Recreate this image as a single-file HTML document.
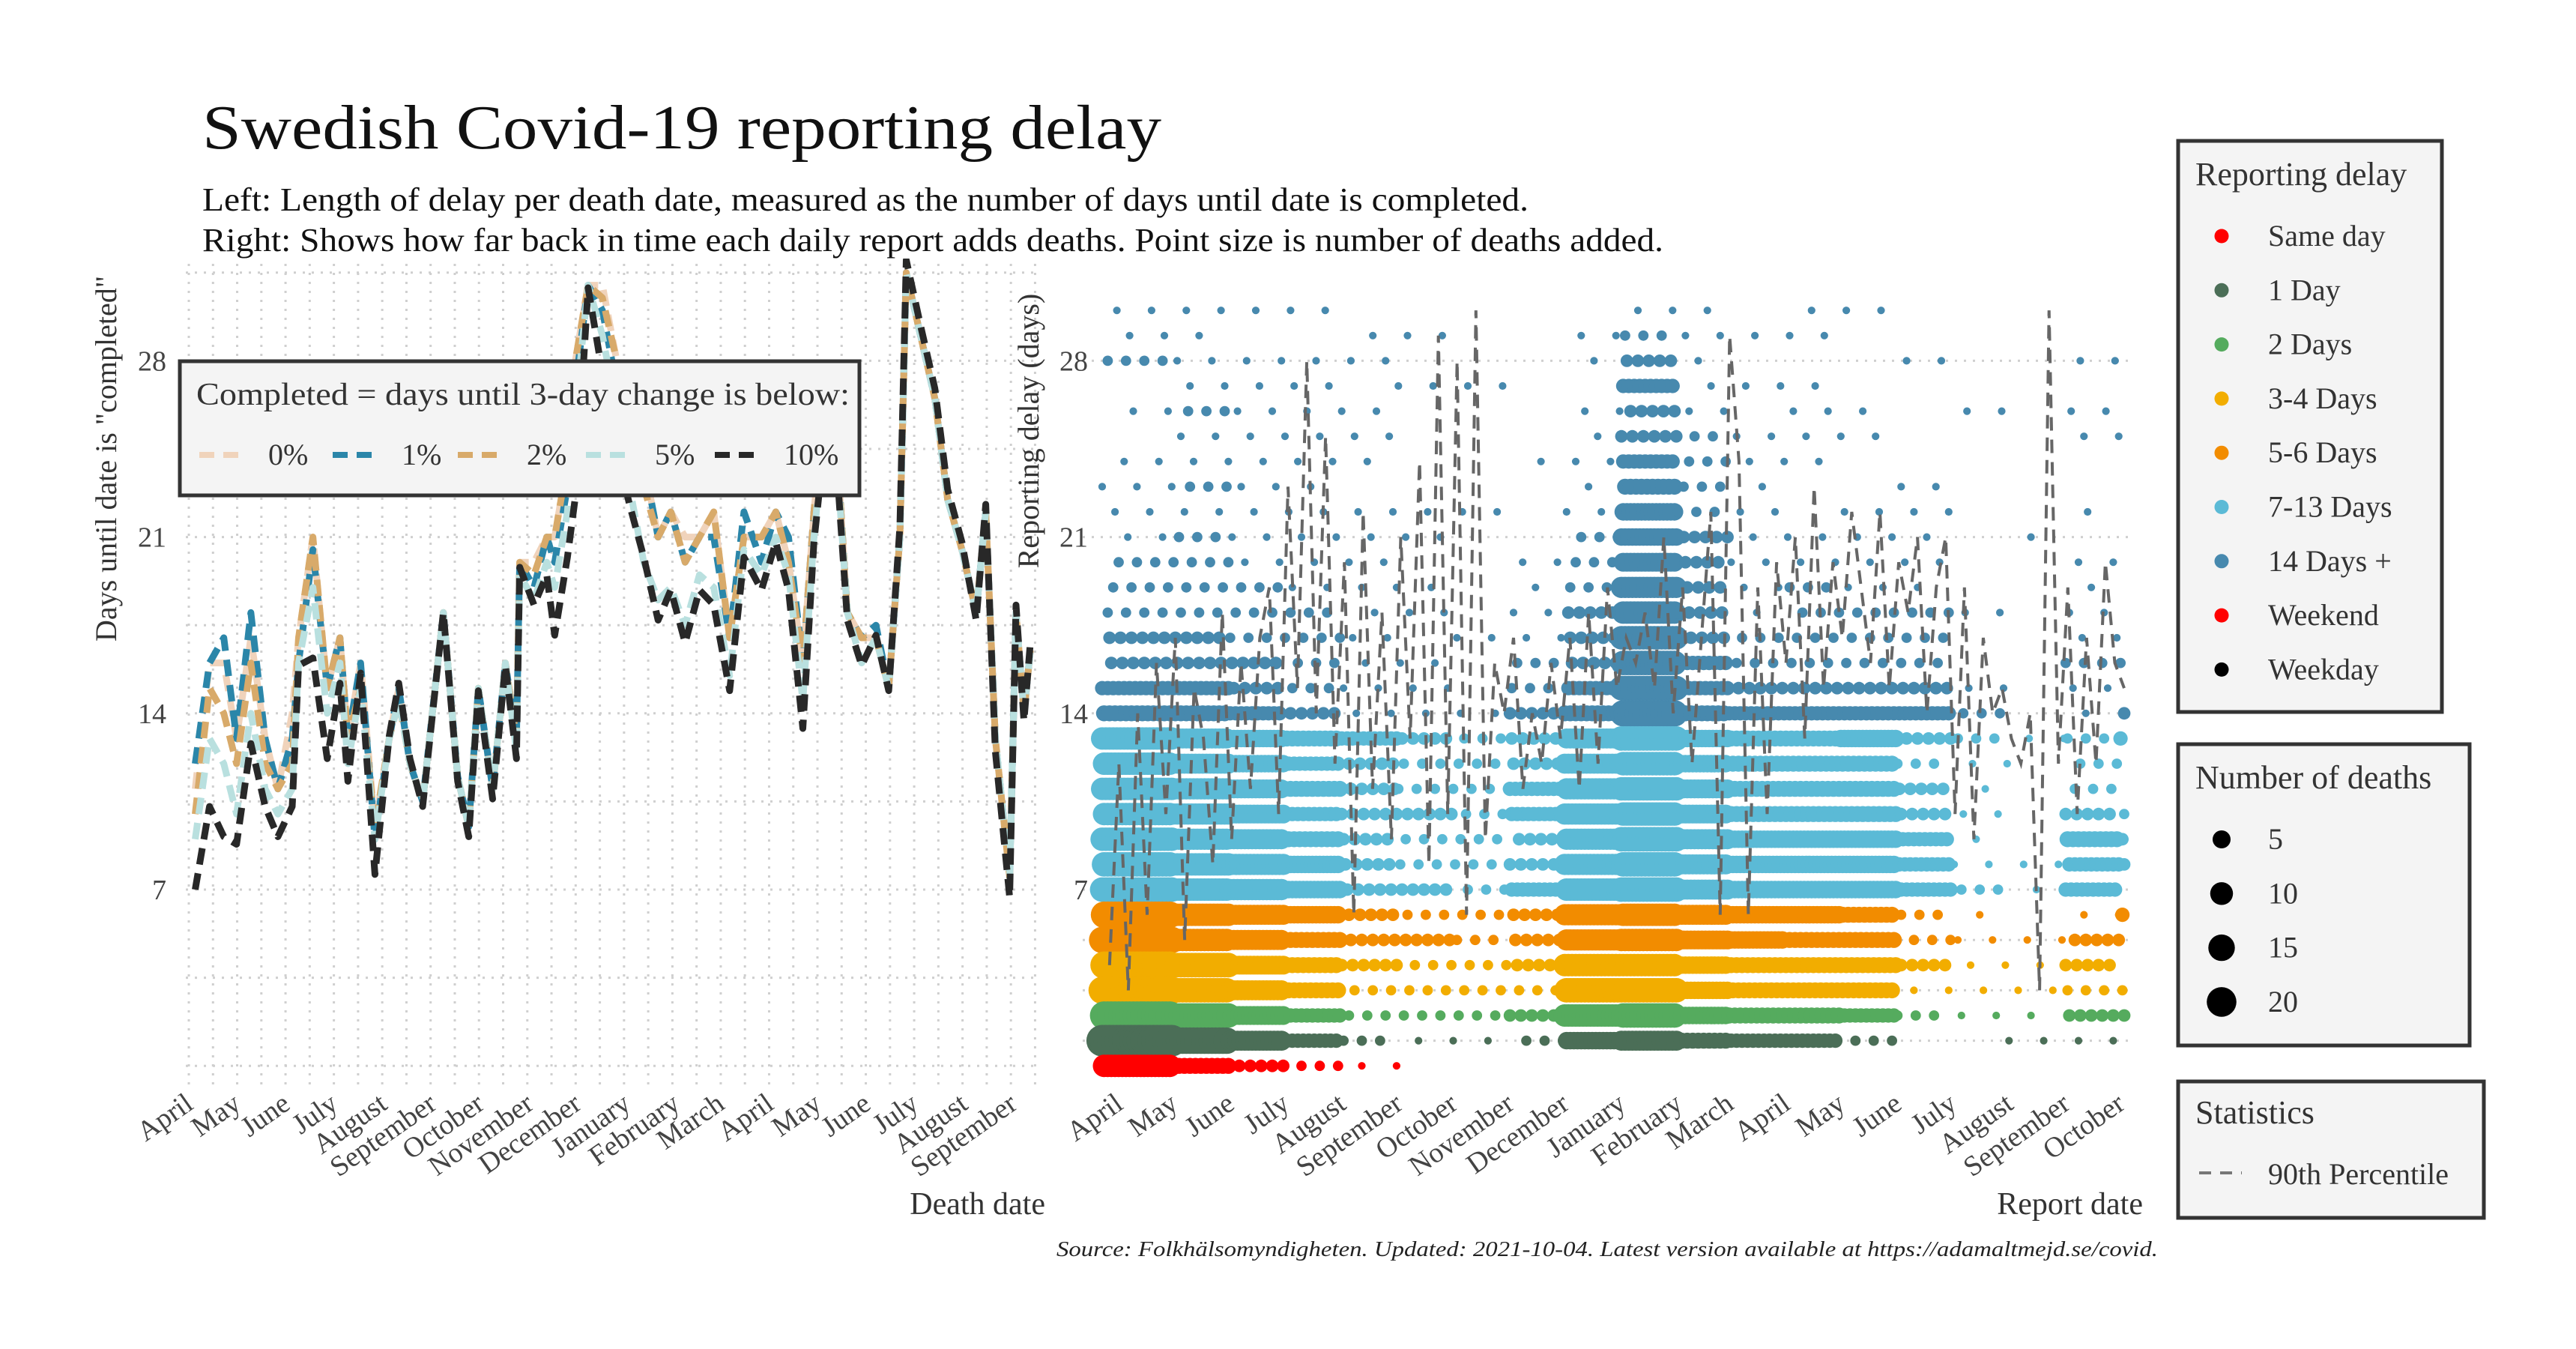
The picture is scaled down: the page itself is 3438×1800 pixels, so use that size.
<!DOCTYPE html>
<html><head><meta charset="utf-8">
<style>
html,body{margin:0;padding:0;background:#fff;}
svg{display:block;font-family:"Liberation Serif",serif;}
</style></head>
<body>
<svg id="chart" width="3438" height="1800" viewBox="0 0 3438 1800" xmlns="http://www.w3.org/2000/svg">
  <rect x="0" y="0" width="3438" height="1800" fill="#fff"/>
  <text x="270" y="198" font-size="84" fill="#111" textLength="1280" lengthAdjust="spacingAndGlyphs">Swedish Covid-19 reporting delay</text>
  <text x="270" y="281" font-size="44" fill="#111" textLength="1770" lengthAdjust="spacingAndGlyphs">Left: Length of delay per death date, measured as the number of days until date is completed.</text>
  <text x="270" y="335" font-size="44" fill="#111" textLength="1950" lengthAdjust="spacingAndGlyphs">Right: Shows how far back in time each daily report adds deaths. Point size is number of deaths added.</text>

  <defs>
    <clipPath id="clipL"><rect x="245" y="345" width="1140" height="1110"/></clipPath>
    <clipPath id="clipR"><rect x="1440" y="345" width="1420" height="1110"/></clipPath>
  </defs>
  <g id="leftGrid"></g>
  <g id="leftLines" clip-path="url(#clipL)"></g>
  <g id="leftAxes"></g>
  <g id="rightGrid"></g>
  <g id="rightDots" clip-path="url(#clipR)"></g>
  <g id="rightLine" clip-path="url(#clipR)"></g>
  <g id="rightAxes"></g>

  <text transform="translate(155,612) rotate(-90)" text-anchor="middle" font-size="40" fill="#333">Days until date is "completed"</text>
  <text transform="translate(1386,575) rotate(-90)" text-anchor="middle" font-size="40" fill="#333">Reporting delay (days)</text>
  <text x="1395" y="1620" text-anchor="end" font-size="42" fill="#333">Death date</text>
  <text x="2860" y="1620" text-anchor="end" font-size="42" fill="#333">Report date</text>
  <text x="2880" y="1676" text-anchor="end" font-size="29" font-style="italic" fill="#222" textLength="1470" lengthAdjust="spacingAndGlyphs">Source: Folkhälsomyndigheten. Updated: 2021-10-04. Latest version available at https://adamaltmejd.se/covid.</text>

  <g>
    <rect x="240" y="482" width="907" height="179" fill="#f4f4f4" stroke="#333" stroke-width="5"/>
    <text x="262" y="540" font-size="42" fill="#333" textLength="872" lengthAdjust="spacingAndGlyphs">Completed = days until 3-day change is below:</text>
    <g id="legKeys"></g>
  </g>

  <g>
    <rect x="2907" y="188" width="352" height="762" fill="#f4f4f4" stroke="#333" stroke-width="5"/>
    <text x="2930" y="247" font-size="44" fill="#333">Reporting delay</text>
    <g id="delayKeys"></g>
  </g>
  <g>
    <rect x="2907" y="993" width="389" height="402" fill="#f4f4f4" stroke="#333" stroke-width="5"/>
    <text x="2930" y="1052" font-size="44" fill="#333">Number of deaths</text>
    <g id="sizeKeys"></g>
  </g>
  <g>
    <rect x="2907" y="1443" width="408" height="182" fill="#f4f4f4" stroke="#333" stroke-width="5"/>
    <text x="2930" y="1499" font-size="44" fill="#333">Statistics</text>
    <line x1="2935" y1="1565" x2="2992" y2="1565" stroke="#777" stroke-width="4" stroke-dasharray="16 12"/>
    <text x="3027" y="1580" font-size="40" fill="#333">90th Percentile</text>
  </g>
</svg>
<script>
// ---------- LEFT PANEL DATA ----------
const deathDays = [4,13,22,30,39,48,56,65,69,78, 87,95,100,108,117,126,132,139,147,160, 169,176,182,191,199,206,208,217,225,230, 238,243,251,260,269,277,286,295,303,312, 321,330,340,349,360,369,377,386,393,399, 408,414,423,432,440,447,451,460,469,477, 486,495,501,507,516,520,525,529];
const pct10 = [7,10.3,9.1,8.8,12.8,10.3,9.1,10.3,15.9,16.2, 12.2,15.2,11.3,15.6,7.6,13.1,15.2,12.2,10.3,18, 11.3,9.1,14.9,10.6,15.9,12.2,19.8,18.3,19.5,17.1, 20.2,22.6,30.9,27.5,24.4,22.3,20.2,17.7,18.9,16.8, 18.9,18.3,14.9,20.2,18.9,20.8,18.9,13.4,20.8,24.4, 23.2,17.7,15.9,17.1,14.9,21.4,32,29.4,26.9,22.9, 20.8,17.7,22.3,12.5,6.7,18.3,13.7,16.8];
const pct5 = [9,13,12,10,14,11,10,11,16,19, 14,16,12,15,9,13,14.5,12,10.5,18, 11.5,9.5,15,11,16,12.5,19.5,18.5,20,19, 22,26,31,29,26,23,20,18.5,19,17.5, 19.5,19,15.5,20.5,19.5,21,19.5,14.5,21,25, 23.5,18,16,17,15,21,31.5,29,26.5,22.5, 20.5,18,22,13,7.5,18,14,16.5];
const pct2 = [10,15,14,12,16,12,11,12,17,21, 15,17,13,15,9.5,13,14.5,12,10.5,18, 11.5,9.5,15,11,16,13,20,19.5,21,21, 24,28,31,30.5,28,25,23,21,22,20, 21,22,17,21,21,22,20,16,22,26, 24,18,17,17,15,21,31.5,29,26.5,22.5, 20.5,18,22,13,7.5,18,14,16.5];
const pct1 = [12,16,17,13,18,13,11,13,16,20.5, 15,17,13,16,9,13,15,12,10.5,18, 11.5,9.5,15,11,16,13,20,19,21,20, 23,27,31,30,27,25,24,21,22,20, 21,21,17,22,20,22,21,16,22,26, 24,18,17,17.5,15,21,31.5,29,26.5,22.5, 20.5,18,22,13,7.5,18,14,16.5];
const pct0 = [11,16,16,13,17,13,11,14,17,21, 15,17,13,16,9.5,13,15,12,10.5,18, 11.5,9.5,15,11,16,13,20,20,21,21, 24,28,31,31,28,25,24,21,22,21, 21,22,17,21,21,22,20,16,22,26, 24,18,17,17,15,21,31.5,29,26.5,22.5, 20.5,18,22,13,7.5,18,14,16.5];
const seriesNames = ["0%","1%","2%","5%","10%"];
const yTicks = [7,14,21,28];
const monthNamesLeft = ["April","May","June","July","August","September","October","November","December","January","February","March","April","May","June","July","August","September"];
const monthNamesRight = ["April","May","June","July","August","September","October","November","December","January","February","March","April","May","June","July","August","September","October"];

// ---------- RIGHT PANEL DATA ----------
const delayRows = [
[10,5,3,2,1,0,0,0,0,0,0,0,0,0,0,0,0,0,0],
[20,14,8,4,2,1,1,2,6,8,5,4,4,2,0,0,1,1,1],
[16,12,7,4,2,2,2,3,10,12,6,5,5,4,2,1,1,3,3],
[15,12,8,5,2,2,2,2,12,12,6,5,5,5,1,1,1,2,2],
[15,12,7,5,3,2,2,3,10,10,6,5,5,5,3,1,1,3,2],
[14,10,8,5,3,3,2,3,9,10,7,6,5,5,2,1,1,3,3],
[14,10,8,6,3,2,2,3,9,10,8,6,6,5,2,1,0,1,4],
[12,10,9,6,3,3,2,4,10,12,8,6,6,6,4,2,1,4,3],
[12,10,9,6,3,2,2,3,9,12,8,6,6,6,4,1,1,4,3],
[11,9,8,5,3,2,2,3,9,12,8,6,6,6,4,1,0,5,3],
[10,9,7,4,3,3,2,4,9,11,7,5,5,5,3,1,0,3,2],
[10,9,7,5,3,2,2,4,9,11,7,5,5,5,3,1,0,2,3],
[10,8,6,4,3,2,2,3,8,11,6,5,5,5,2,1,0,2,3],
[10,8,6,5,4,3,2,3,8,12,6,5,5,6,3,2,1,2,4],
[5,5,4,3,1,1,1,3,5,14,5,4,4,4,4,2,0,1,3],
[4,4,3,2,1,1,0,2,4,12,4,3,3,3,3,1,0,1,2],
[3,3,3,2,1,1,0,2,3,12,4,2,2,2,2,0,0,2,2],
[3,3,2,2,1,0,1,1,3,11,3,2,2,2,2,0,0,1,1],
[2,2,2,2,1,1,0,1,3,10,3,1,2,2,2,1,0,1,1],
[2,2,2,1,1,1,0,1,2,9,3,1,2,1,1,0,0,1,1],
[2,2,1,1,1,0,0,1,2,7,3,1,1,1,1,0,0,1,0],
[1,2,1,1,1,1,0,0,2,6,3,1,1,1,1,0,1,0,0],
[1,1,1,1,1,1,1,0,1,6,2,1,0,1,1,0,0,1,0],
[1,2,1,1,0,0,0,0,1,5,2,1,0,0,1,0,0,0,0],
[1,1,1,1,1,0,0,1,1,4,2,1,1,0,0,0,0,0,0],
[0,1,1,1,1,0,0,0,1,3,2,1,1,1,0,0,0,1,1],
[1,2,1,1,1,0,0,0,1,3,1,0,1,1,0,1,0,1,0],
[0,1,1,1,0,1,1,0,0,4,1,1,1,0,0,0,0,0,1],
[2,1,1,1,1,0,0,0,1,3,1,0,0,0,1,0,0,1,0],
[1,1,0,0,1,1,0,0,1,2,1,1,1,0,0,0,0,0,0],
[1,1,1,1,0,0,0,0,0,1,1,0,1,1,0,0,0,0,0]
];
const p90 = [4,12,3,14,6,16,10,17,5,15, 13,8,18,9,16,11,17,19,10,23,15,28,14,25,12, 20,6,22,11,18,9,21,13,24,8,29,10, 28,6,30,9,16,14,17,11,14,12, 16,13,17,11,18,12,19,15,17, 16,18,15,21,14,19,12,17,22,6,29, 24,6,19,10,20,16,21,13,23,15,20,17,22, 19,16,22,15,20,18,21,14,19, 21,10,19,9,17,14,15,13,12,14,3,30, 12,19,10,17,12,20,16,15];
const delayCategories = ["Same day","1 Day","2 Days","3-4 Days","5-6 Days","7-13 Days","14 Days +","Weekend","Weekday"];
const sizeBreaks = [5,10,15,20];

// ---------- SCALES ----------
const NS = "http://www.w3.org/2000/svg";
function mk(tag, attrs, parent){ const e=document.createElementNS(NS,tag); for(const k in attrs) e.setAttribute(k,attrs[k]); parent.appendChild(e); return e; }
const yScale = d => 1187 - (d-7)*33.6;
const xL = day => 252 + day*2.123;
const xR = day => 1493 + day*2.44;
const dayOfMonth = i => Math.round((Date.UTC(2020,3+i,1)-Date.UTC(2020,3,1))/86400000);
const rSize = n => Math.sqrt(4 + 22*n);
const catColors = ["#ff0000","#4b6e57","#55ab5e","#f2ad00","#f28c00","#5bbad6","#4789ae","#ff0000","#000000"];
const rowColor = d => d===0?catColors[0]:d===1?catColors[1]:d===2?catColors[2]:d<=4?catColors[3]:d<=6?catColors[4]:d<=13?catColors[5]:catColors[6];

// ---------- LEFT PANEL ----------
const lg = document.getElementById('leftGrid');
for(let v=0; v<=31.5; v+=3.5){
  const ln = mk('line',{x1:248,x2:1385,y1:yScale(v),y2:yScale(v),stroke:'#cfcfcf','stroke-width':3,'stroke-dasharray':'3 9'},lg);
  
  
}
for(let day=0; day<=532; day+=15.2){
  const ln = mk('line',{x1:xL(day),x2:xL(day),y1:352,y2:1452,stroke:'#cfcfcf','stroke-width':3,'stroke-dasharray':'3 9'},lg);
  
  
}
const lines = document.getElementById('leftLines');
const seriesData = [pct0,pct1,pct2,pct5,pct10];
const seriesColors = ["#f0d3bb","#2b86a9","#d8aa6a","#b9e0df","#282828"];
seriesData.forEach((vals,si)=>{
  const pts = vals.map((v,i)=> xL(deathDays[i]).toFixed(1)+','+yScale(v).toFixed(1)).join(' ');
  const pl = mk('polyline',{points:pts,fill:'none',stroke:seriesColors[si],'stroke-width':9,'stroke-dasharray':'22 12','stroke-linejoin':'round'},lines);
  
  
});
const la = document.getElementById('leftAxes');
yTicks.forEach(t=>{
  const tx = mk('text',{x:222,y:yScale(t)+13,'text-anchor':'end','font-size':38,fill:'#444'},la);
  tx.textContent = t;
  
  
});
monthNamesLeft.forEach((m,i)=>{
  const x = xL(dayOfMonth(i));
  const tx = mk('text',{transform:`translate(${x+8},1478) rotate(-35)`,'text-anchor':'end','font-size':38,fill:'#444'},la);
  tx.textContent = m;
  
  
});

const lk = document.getElementById('legKeys');
const keyX = [266,444,611,782,954];
seriesNames.forEach((n,i)=>{
  const l = mk('line',{x1:keyX[i],x2:keyX[i]+58,y1:607,y2:607,stroke:seriesColors[i],'stroke-width':8,'stroke-dasharray':'20 12'},lk);
  
  
  const t = mk('text',{x:keyX[i]+92,y:620,'font-size':40,fill:'#333'},lk);
  t.textContent = n;
  
  
});

// ---------- RIGHT PANEL ----------
const rg = document.getElementById('rightGrid');
[1,3,5,7,14,21,28].forEach(v=>{
  const ln = mk('line',{x1:1445,x2:2845,y1:yScale(v),y2:yScale(v),stroke:'#cfcfcf','stroke-width':3,'stroke-dasharray':'3 9'},rg);
  
  
});
const monthIdx = d => { const dt=new Date(Date.UTC(2020,3,1+d)); return Math.max(0,Math.min(18,(dt.getUTCFullYear()-2020)*12+dt.getUTCMonth()-3)); };
const dots = document.getElementById('rightDots');
for(let r=delayRows.length-1; r>=0; r--){
  for(let d=-9; d<=550; d++){
    const v = delayRows[r][monthIdx(d)];
    if(!v) continue;
    const step = v<=1?19:(v<=2?10:(v<=3?6:(v<=5?3:2)));
    if(((d + r*7)%step+step)%step !== 0) continue;
    const c = mk('circle',{cx:xR(d).toFixed(1),cy:yScale(r).toFixed(1),r:rSize(v).toFixed(1),fill:rowColor(r)},dots);
    
    
  }
}
const rl = document.getElementById('rightLine');
const p90pts = p90.map((v,i)=> xR(-5 + i*555/(p90.length-1)).toFixed(1)+','+yScale(v).toFixed(1)).join(' ');
const pl = mk('polyline',{points:p90pts,fill:'none',stroke:'#666','stroke-width':4,'stroke-dasharray':'18 12'},rl);



const ra = document.getElementById('rightAxes');
yTicks.forEach(t=>{
  const tx = mk('text',{x:1452,y:yScale(t)+13,'text-anchor':'end','font-size':38,fill:'#444'},ra);
  tx.textContent = t;
  
  
});
monthNamesRight.forEach((m,i)=>{
  const x = xR(dayOfMonth(i));
  const tx = mk('text',{transform:`translate(${x+8},1478) rotate(-35)`,'text-anchor':'end','font-size':38,fill:'#444'},ra);
  tx.textContent = m;
  
  
});

const dk = document.getElementById('delayKeys');
delayCategories.forEach((n,i)=>{
  const y = 315 + i*72.3;
  const c = mk('circle',{cx:2965,cy:y,r:9.5,fill:catColors[i]},dk);
  
  
  const t = mk('text',{x:3027,y:y+13,'font-size':40,fill:'#333'},dk);
  t.textContent = n;
  
  
});
const sk = document.getElementById('sizeKeys');
sizeBreaks.forEach((n,i)=>{
  const y = 1120 + i*72.3;
  const c = mk('circle',{cx:2965,cy:y,r:rSize(n)*0.75+4,fill:'#000'},sk);
  
  
  const t = mk('text',{x:3027,y:y+13,'font-size':40,fill:'#333'},sk);
  t.textContent = n;
  
  
});
</script>
</body></html>
